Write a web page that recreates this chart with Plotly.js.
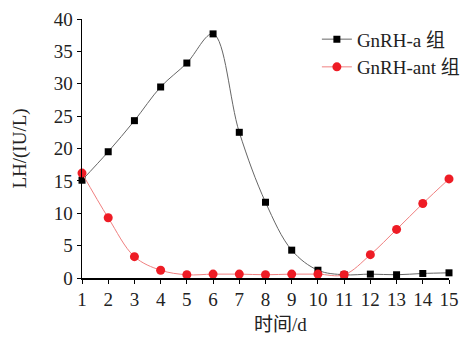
<!DOCTYPE html>
<html><head><meta charset="utf-8">
<script src="https://cdn.plot.ly/plotly-3.0.1.min.js"></script>
<style>body{margin:0;background:#fff}#c{width:472px;height:337px}</style>
</head><body><div id="c"></div>
<script>
const days = [1,2,3,4,5,6,7,8,9,10,11,12,13,14,15];
const gnrhA = [15.1,19.5,24.3,29.5,33.2,37.7,22.5,11.7,4.3,1.2,0.5,0.6,0.5,0.7,0.8];
const gnrhAnt = [16.2,9.3,3.3,1.2,0.5,0.6,0.6,0.5,0.6,0.6,0.5,3.6,7.5,11.5,15.3];
const seriesNames = ['GnRH-a 组','GnRH-ant 组'];
const xTitle = '时间/d';
const yTitle = 'LH/(IU/L)';
const FONT = '"Liberation Serif","Times New Roman","Noto Sans CJK SC",serif';
const traces = [
  {x: days, y: gnrhA, name: seriesNames[0], type:'scatter', mode:'lines+markers',
   line:{shape:'spline', smoothing:1, color:'#666', width:1},
   marker:{symbol:'square', size:7, color:'#000'}, cliponaxis:false},
  {x: days, y: gnrhAnt, name: seriesNames[1], type:'scatter', mode:'lines+markers',
   line:{shape:'spline', smoothing:1, color:'#f08080', width:1},
   marker:{symbol:'circle', size:9, color:'#ee1c25'}, cliponaxis:false}
];
const layout = {
  width:472, height:337,
  margin:{l:82, r:23, t:19, b:59, autoexpand:false},
  paper_bgcolor:'#fff', plot_bgcolor:'#fff',
  font:{family:FONT, color:'#222', size:18},
  showlegend:true,
  legend:{x:0.64, y:0.995, xanchor:'left', yanchor:'top', font:{size:19, family:FONT},
          bgcolor:'rgba(0,0,0,0)', tracegroupgap:0, itemwidth:30},
  annotations:[{text:xTitle, xref:'paper', yref:'paper', x:0.54, y:-0.181,
                xanchor:'center', yanchor:'middle', showarrow:false,
                font:{size:19, family:FONT, color:'#222'}}],
  xaxis:{range:[1,15], tickvals:days, showline:true, linecolor:'#000', linewidth:1.5,
         ticks:'outside', ticklen:4, tickcolor:'#000', showgrid:false, zeroline:false,
         tickfont:{size:19}, automargin:false},
  yaxis:{range:[0,40], dtick:5, showline:true, linecolor:'#000', linewidth:1.5,
         ticks:'outside', ticklen:4, tickcolor:'#000', showgrid:false, zeroline:false,
         tickfont:{size:19}, automargin:false,
         title:{text:yTitle, font:{size:19}, standoff:22}}
};
Plotly.newPlot('c', traces, layout, {displayModeBar:false, staticPlot:true});
</script></body></html>
